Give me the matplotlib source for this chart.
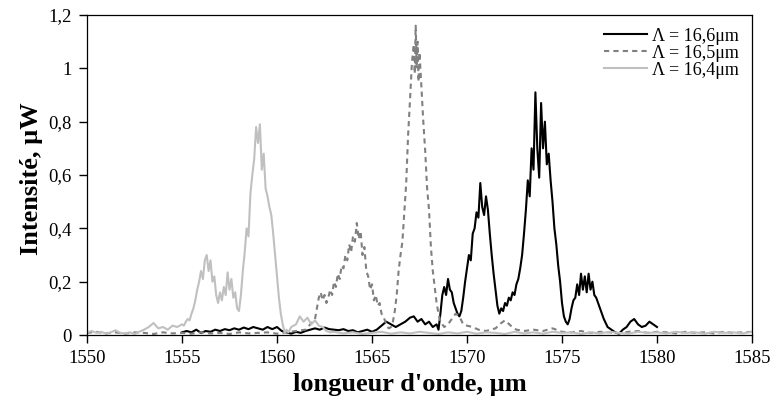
#!/usr/bin/env python3
import matplotlib
matplotlib.use("Agg")
import matplotlib.pyplot as plt
from matplotlib.ticker import FuncFormatter

# spectre, Lambda = 16,4 um (gris clair)
wl_164 = [1550.0, 1550.25, 1550.5, 1550.75, 1551.0, 1551.25, 1551.5, 1551.75, 1552.0, 1552.25,
          1552.5, 1552.75, 1553.0, 1553.25, 1553.5, 1553.75, 1554.0, 1554.25, 1554.5, 1554.75,
          1555.0, 1555.1, 1555.2, 1555.3, 1555.4, 1555.5, 1555.6, 1555.7, 1555.8, 1555.9,
          1556.0, 1556.1, 1556.2, 1556.3, 1556.4, 1556.5, 1556.6, 1556.7, 1556.8, 1556.9,
          1557.0, 1557.1, 1557.2, 1557.3, 1557.4, 1557.5, 1557.6, 1557.7, 1557.8, 1557.9,
          1558.0, 1558.1, 1558.2, 1558.3, 1558.4, 1558.5, 1558.6, 1558.7, 1558.8, 1558.9,
          1559.0, 1559.1, 1559.2, 1559.3, 1559.4, 1559.5, 1559.6, 1559.7, 1559.8, 1559.9,
          1560.0, 1560.1, 1560.2, 1560.3, 1560.4, 1560.5, 1560.6, 1560.75, 1561.0, 1561.2,
          1561.4, 1561.6, 1561.8, 1562.0, 1562.2, 1562.4, 1562.6, 1562.8, 1563.0, 1563.5,
          1564.0, 1564.5, 1565.0, 1565.5, 1566.0, 1566.5, 1567.0, 1567.5, 1568.0, 1568.5,
          1569.0, 1569.5, 1570.0, 1570.5, 1571.0, 1571.5, 1572.0, 1572.5, 1573.0, 1573.5,
          1574.0, 1574.5, 1575.0, 1575.5, 1576.0, 1576.5, 1577.0, 1577.5, 1578.0, 1578.5,
          1579.0, 1579.5, 1580.0, 1580.5, 1581.0, 1581.5, 1582.0, 1582.5, 1583.0, 1583.5,
          1584.0, 1584.5, 1585.0]
int_164 = [0.01, 0.015, 0.008, 0.012, 0.005, 0.01, 0.018, 0.008, 0.006, 0.01,
           0.004, 0.012, 0.02, 0.03, 0.045, 0.025, 0.03, 0.02, 0.035, 0.03,
           0.04, 0.035, 0.05, 0.06, 0.055, 0.08, 0.1, 0.13, 0.17, 0.2,
           0.24, 0.21, 0.28, 0.3, 0.24, 0.28, 0.2, 0.22, 0.15, 0.12,
           0.16, 0.13, 0.18, 0.15, 0.235, 0.17, 0.21, 0.14, 0.16, 0.1,
           0.09, 0.15, 0.24, 0.31, 0.4, 0.37, 0.53, 0.6, 0.66, 0.78,
           0.72, 0.79, 0.62, 0.68, 0.55, 0.52, 0.48, 0.45, 0.38, 0.3,
           0.22, 0.14, 0.08, 0.04, 0.01, 0.02, 0.01, 0.03, 0.04, 0.07,
           0.05, 0.065, 0.04, 0.055, 0.035, 0.03, 0.015, 0.01, 0.012, 0.006,
           0.01, 0.004, 0.008, 0.012, 0.005, 0.01, 0.006, 0.012, 0.008, 0.004,
           0.01, 0.006, 0.012, 0.005, 0.01, 0.008, 0.004, 0.012, 0.006, 0.01,
           0.005, 0.012, 0.008, 0.01, 0.004, 0.01, 0.006, 0.012, 0.008, 0.005,
           0.012, 0.008, 0.01, 0.006, 0.012, 0.008, 0.01, 0.005, 0.012, 0.008,
           0.01, 0.006, 0.012]

# spectre, Lambda = 16,5 um (tirets)
wl_165 = [1550.0, 1550.5, 1551.0, 1551.5, 1552.0, 1552.5, 1553.0, 1553.5, 1554.0, 1554.5,
          1555.0, 1555.5, 1556.0, 1556.5, 1557.0, 1557.5, 1558.0, 1558.5, 1559.0, 1559.5,
          1560.0, 1560.5, 1561.0, 1561.5, 1561.75, 1562.0, 1562.1, 1562.2, 1562.3, 1562.4,
          1562.5, 1562.6, 1562.7, 1562.8, 1562.9, 1563.0, 1563.1, 1563.2, 1563.3, 1563.4,
          1563.5, 1563.6, 1563.7, 1563.8, 1563.9, 1564.0, 1564.1, 1564.2, 1564.3, 1564.4,
          1564.5, 1564.6, 1564.7, 1564.8, 1564.9, 1565.0, 1565.1, 1565.2, 1565.3, 1565.4,
          1565.5, 1565.6, 1565.7, 1565.8, 1565.9, 1566.0, 1566.1, 1566.2, 1566.3, 1566.4,
          1566.5, 1566.6, 1566.7, 1566.8, 1566.9, 1567.0, 1567.1, 1567.2, 1567.25, 1567.3,
          1567.35, 1567.4, 1567.45, 1567.5, 1567.6, 1567.7, 1567.8, 1567.9, 1568.0, 1568.1,
          1568.2, 1568.3, 1568.4, 1568.5, 1568.6, 1568.8, 1569.0, 1569.2, 1569.4, 1569.6,
          1569.8, 1570.0, 1570.3, 1570.6, 1571.0, 1571.5, 1571.8, 1572.0, 1572.3, 1572.6,
          1573.0, 1573.5, 1574.0, 1574.5, 1575.0, 1575.5, 1576.0, 1576.5, 1577.0, 1577.5,
          1578.0, 1578.5, 1579.0, 1579.5, 1580.0, 1580.5, 1581.0, 1581.5, 1582.0, 1582.5,
          1583.0, 1583.5, 1584.0, 1584.5, 1585.0]
int_165 = [0.008, 0.012, 0.006, 0.01, 0.005, 0.01, 0.008, 0.004, 0.01, 0.006,
           0.008, 0.005, 0.01, 0.006, 0.008, 0.004, 0.01, 0.006, 0.008, 0.01,
           0.005, 0.01, 0.015, 0.02, 0.04, 0.06, 0.1, 0.14, 0.16, 0.13,
           0.15, 0.12, 0.14, 0.17, 0.15, 0.2, 0.18, 0.23, 0.21, 0.26,
           0.25, 0.3, 0.28, 0.34, 0.31, 0.37, 0.35, 0.42, 0.36, 0.39,
           0.3, 0.33, 0.24, 0.22, 0.17, 0.19, 0.13, 0.15, 0.11, 0.12,
           0.08, 0.07, 0.05, 0.03, 0.025, 0.03, 0.05, 0.09, 0.15, 0.24,
           0.3, 0.35, 0.46, 0.57, 0.75, 0.88, 1.02, 1.09, 0.98, 1.16,
           1.0, 1.1, 0.95, 1.06, 0.93, 0.8, 0.69, 0.55, 0.47, 0.33,
           0.24, 0.18, 0.12, 0.08, 0.05, 0.03, 0.04, 0.06, 0.08, 0.07,
           0.04, 0.035, 0.03, 0.02, 0.015, 0.025, 0.045, 0.055, 0.035, 0.02,
           0.015, 0.02, 0.015, 0.025, 0.012, 0.01, 0.015, 0.008, 0.012, 0.01,
           0.006, 0.012, 0.015, 0.008, 0.012, 0.01, 0.006, 0.012, 0.008, 0.01,
           0.006, 0.012, 0.008, 0.01, 0.012]

# spectre, Lambda = 16,6 um (noir)
wl_166 = [1555.0, 1555.25, 1555.5, 1555.75, 1556.0, 1556.25, 1556.5, 1556.75, 1557.0, 1557.25,
          1557.5, 1557.75, 1558.0, 1558.25, 1558.5, 1558.75, 1559.0, 1559.25, 1559.5, 1559.75,
          1560.0, 1560.25, 1560.5, 1560.75, 1561.0, 1561.25, 1561.5, 1561.75, 1562.0, 1562.25,
          1562.5, 1562.75, 1563.0, 1563.25, 1563.5, 1563.75, 1564.0, 1564.25, 1564.5, 1564.75,
          1565.0, 1565.25, 1565.5, 1565.75, 1566.0, 1566.25, 1566.5, 1566.75, 1567.0, 1567.2,
          1567.4, 1567.6, 1567.8, 1568.0, 1568.2, 1568.4, 1568.5, 1568.6, 1568.7, 1568.8,
          1568.9, 1569.0, 1569.1, 1569.2, 1569.3, 1569.4, 1569.5, 1569.6, 1569.7, 1569.8,
          1569.9, 1570.0, 1570.1, 1570.2, 1570.3, 1570.4, 1570.5, 1570.6, 1570.7, 1570.8,
          1570.9, 1571.0, 1571.1, 1571.2, 1571.3, 1571.4, 1571.5, 1571.6, 1571.7, 1571.8,
          1571.9, 1572.0, 1572.1, 1572.2, 1572.3, 1572.4, 1572.5, 1572.6, 1572.7, 1572.8,
          1572.9, 1573.0, 1573.1, 1573.2, 1573.3, 1573.4, 1573.5, 1573.6, 1573.7, 1573.8,
          1573.9, 1574.0, 1574.1, 1574.2, 1574.3, 1574.4, 1574.5, 1574.6, 1574.7, 1574.8,
          1574.9, 1575.0, 1575.1, 1575.2, 1575.3, 1575.4, 1575.5, 1575.6, 1575.7, 1575.8,
          1575.9, 1576.0, 1576.1, 1576.2, 1576.3, 1576.4, 1576.5, 1576.6, 1576.7, 1576.8,
          1576.9, 1577.0, 1577.1, 1577.2, 1577.4, 1577.6, 1577.8, 1578.0, 1578.2, 1578.4,
          1578.6, 1578.8, 1579.0, 1579.2, 1579.4, 1579.6, 1579.8, 1580.0]
int_166 = [0.01, 0.015, 0.01, 0.02, 0.008, 0.015, 0.012, 0.02, 0.015, 0.022,
           0.018, 0.025, 0.02, 0.028, 0.022, 0.03, 0.025, 0.02, 0.03, 0.022,
           0.03, 0.015, 0.01, 0.005, 0.012, 0.008, 0.015, 0.02, 0.025, 0.02,
           0.028, 0.022, 0.02, 0.018, 0.022, 0.015, 0.018, 0.01, 0.015, 0.02,
           0.012, 0.02, 0.035, 0.05, 0.04, 0.03, 0.04, 0.05, 0.065, 0.07,
           0.05, 0.06, 0.04, 0.05, 0.03, 0.04, 0.02, 0.08, 0.15, 0.18,
           0.15, 0.21, 0.17, 0.16, 0.12, 0.1, 0.08, 0.07, 0.09, 0.14,
           0.2, 0.25, 0.3, 0.28, 0.38, 0.4, 0.46, 0.44, 0.57, 0.48,
           0.45, 0.52, 0.47, 0.38, 0.3, 0.23, 0.17, 0.11, 0.08, 0.1,
           0.09, 0.12, 0.11, 0.14, 0.13, 0.16, 0.15, 0.19, 0.21, 0.25,
           0.3, 0.38, 0.47, 0.58, 0.52, 0.7, 0.62, 0.91, 0.7, 0.59,
           0.87, 0.7, 0.8, 0.64, 0.68, 0.58, 0.5, 0.4, 0.34, 0.26,
           0.2, 0.12, 0.07, 0.05, 0.04, 0.06, 0.1, 0.13, 0.14, 0.19,
           0.15, 0.23, 0.17, 0.22, 0.16, 0.23, 0.17, 0.2, 0.15, 0.14,
           0.12, 0.1, 0.08, 0.06, 0.03, 0.02, 0.01, 0.005, 0.02, 0.03,
           0.05, 0.06, 0.04, 0.03, 0.035, 0.05, 0.04, 0.03]

labels = ["\u039b = 16,6\u03bcm", "\u039b = 16,5\u03bcm", "\u039b = 16,4\u03bcm"]
x_ticks = [1550, 1555, 1560, 1565, 1570, 1575, 1580, 1585]
y_ticks = [0, 0.2, 0.4, 0.6, 0.8, 1.0, 1.2]


def comma(v, pos):
    s = ("%.1f" % v).rstrip("0").rstrip(".")
    return s.replace(".", ",")


plt.rcParams["font.family"] = ["Liberation Serif", "DejaVu Serif"]

fig = plt.figure(figsize=(7.72, 4.09), dpi=100)
ax = fig.add_axes([0.1127, 0.1809, 0.8614, 0.7824])

ax.plot(wl_166, int_166, color="black", lw=1.5, label=labels[0])
ax.plot(wl_165, int_165, color="#808080", lw=1.5, linestyle=(0, (2.5, 2)), label=labels[1])
ax.plot(wl_164, int_164, color="#c0c0c0", lw=1.5, label=labels[2])

ax.set_xlim(1550, 1585)
ax.set_ylim(0, 1.2)
ax.set_xticks(x_ticks)
ax.set_yticks(y_ticks)
ax.yaxis.set_major_formatter(FuncFormatter(comma))
ax.tick_params(axis="both", direction="out", length=6, width=1, labelsize=13.5, pad=5)
ax.tick_params(top=False, right=False)
for s in ax.spines.values():
    s.set_linewidth(0.9)
    s.set_color("black")

ax.set_xlabel("longueur d'onde, \u00b5m", fontsize=19, fontweight="bold")
ax.xaxis.set_label_coords(0.486, -0.12)
ax.set_ylabel("Intensit\u00e9, \u00b5W", fontsize=19, fontweight="bold")
ax.yaxis.set_label_coords(-0.066, 0.49)

ax.legend(loc="upper right", frameon=False, fontsize=13, handlelength=2.4,
          labelspacing=0.0, borderaxespad=0.3, handletextpad=0.3)

fig.savefig("out.png", dpi=100)
